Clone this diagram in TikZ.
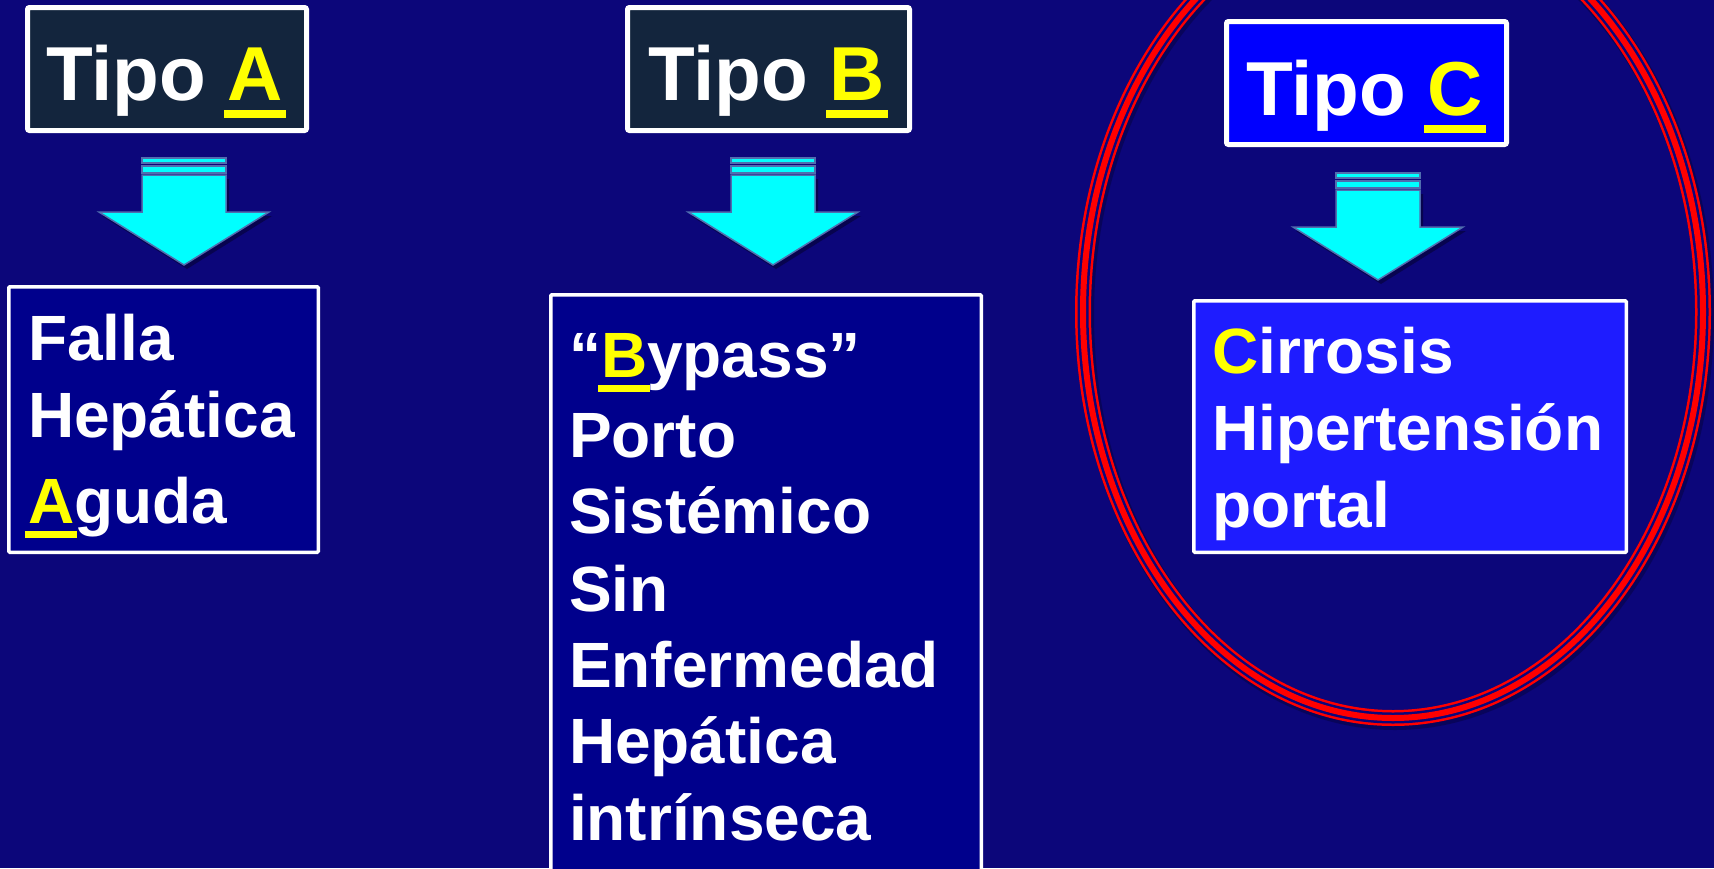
\documentclass[tikz,border=0pt]{standalone}
\usepackage{fontspec}
\setmainfont{Liberation Sans}
\definecolor{bg}{RGB}{12,6,122}
\definecolor{hdrdark}{RGB}{19,37,61}
\definecolor{boxnavy}{RGB}{0,0,140}
\definecolor{boxblue}{RGB}{30,28,255}
\definecolor{hdrblue}{RGB}{0,0,255}
\definecolor{cyanfill}{RGB}{0,255,255}
\definecolor{arrowedge}{RGB}{80,110,175}
\definecolor{yel}{RGB}{255,255,0}
\definecolor{redring}{RGB}{255,0,0}
\newcommand\yul[1]{\setbox0\hbox{\textcolor{yel}{#1}}\rlap{\kern-0.04em\textcolor{yel}{\rule[-0.235em]{\dimexpr\wd0+0.08em\relax}{0.11em}}}\box0}
\newcommand\yl[1]{\textcolor{yel}{#1}}
\tikzset{
  hdrbox/.style={draw=white, line width=5pt, rounded corners=2pt, inner sep=0pt, outer sep=0pt, anchor=north west},
  bodybox/.style={draw=white, line width=3.5pt, rounded corners=1pt, inner sep=0pt, outer sep=0pt, anchor=north west},
  txt/.style={anchor=base west, inner sep=0pt, outer sep=0pt, text=white, font=\bfseries\fontsize{64}{76}\selectfont},
  ttl/.style={anchor=base west, inner sep=0pt, outer sep=0pt, text=white, font=\bfseries\fontsize{76.5}{90}\selectfont},
  stripe/.style={draw=arrowedge, line width=1.5pt, fill=cyanfill},
  blockarrow/.pic={
    \fill[black, opacity=0.35, shift={(3,4)}] (-42,17) -- (42,17) -- (42,54) -- (85,54) -- (0,107) -- (-85,54) -- (-42,54) -- cycle;
    \draw[stripe] (-42,0) rectangle (42,5);
    \draw[stripe] (-42,8) rectangle (42,15);
    \draw[stripe, line join=miter] (-42,17) -- (42,17) -- (42,54) -- (85,54) -- (0,107) -- (-85,54) -- (-42,54) -- cycle;
  }
}
\begin{document}
\begin{tikzpicture}[x=1pt, y=-1pt]
\useasboundingbox (0,0) rectangle (1714,868);
\clip (0,0) rectangle (1714,868);
\fill[bg] (0,0) rectangle (1714,868);

% red triple ring
\draw[black, opacity=0.25, line width=18pt] (1395,315) ellipse [x radius=310pt, y radius=406pt];
\draw[redring, line width=16pt] (1393,312) ellipse [x radius=310pt, y radius=406pt];
\draw[bg, line width=11pt] (1393,312) ellipse [x radius=310pt, y radius=406pt];
\draw[redring, line width=6pt] (1393,312) ellipse [x radius=310pt, y radius=406pt];

% header boxes
\node[hdrbox, fill=hdrdark, minimum width=279pt, minimum height=123pt] (hA) at (27.5,7.5) {};
\node[hdrbox, fill=hdrdark, minimum width=282pt, minimum height=123pt] (hB) at (627.5,7.5) {};
\node[hdrbox, fill=hdrblue, minimum width=280pt, minimum height=123pt] (hC) at (1226.5,21.5) {};

% body boxes
\node[bodybox, fill=boxnavy, minimum width=309.5pt, minimum height=265.5pt] (bA) at (8.75,286.75) {};
\node[bodybox, fill=boxnavy, minimum width=430.5pt, minimum height=620pt] (bB) at (550.75,294.75) {};
\node[bodybox, fill=boxblue, minimum width=432.5pt, minimum height=251.5pt] (bC) at (1193.75,300.75) {};

% arrows
\pic (arA) at (184,158) {blockarrow};
\pic (arB) at (773,158) {blockarrow};
\pic (arC) at (1378,173) {blockarrow};

% titles
\node[ttl] (tA) at (46,100) {Tipo \yul{A}};
\node[ttl] (tB) at (648,100) {Tipo \yul{B}};
\node[ttl] (tC) at (1246,115) {Tipo \yul{C}};

% body A
\node[txt] (a1) at (28,360) {Falla};
\node[txt] (a2) at (28,437) {Hepática};
\node[txt] (a3) at (28,523) {\yul{A}guda};

% body B
\node[txt] (b1) at (569,377) {“\yul{B}ypass”};
\node[txt] (b2) at (569,457) {Porto};
\node[txt] (b3) at (569,533) {Sistémico};
\node[txt] (b4) at (569,611) {Sin};
\node[txt] (b5) at (569,687) {Enfermedad};
\node[txt] (b6) at (569,763) {Hepática};
\node[txt] (b7) at (569,840) {intrínseca};

% body C
\node[txt] (c1) at (1212,373) {\yl{C}irrosis};
\node[txt] (c2) at (1212,450) {Hipertensión};
\node[txt] (c3) at (1212,527) {portal};
\end{tikzpicture}
\end{document}
